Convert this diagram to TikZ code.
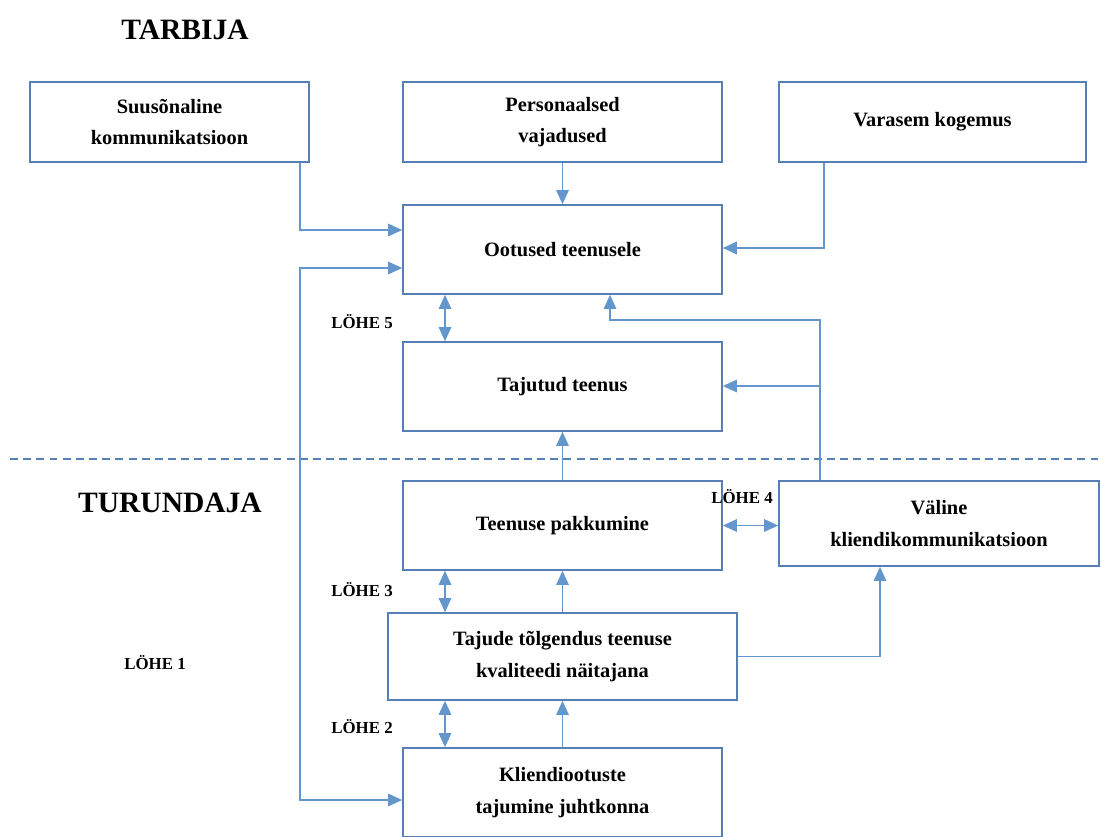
\documentclass[tikz,border=0pt]{standalone}
\usepackage{fontspec}
\setmainfont{Liberation Serif}
\usetikzlibrary{arrows.meta}
\definecolor{kast}{RGB}{84,128,182}
\definecolor{joon}{RGB}{98,150,205}

\begin{document}
\begin{tikzpicture}[x=0.02cm,y=-0.02cm,
  blok/.style={draw=kast, line width=0.9pt, align=center, inner sep=2pt,
    font=\bfseries\fontsize{11.6}{18}\selectfont},
  pealkiri/.style={font=\bfseries\fontsize{16.8}{20}\selectfont},
  lohe/.style={font=\bfseries\fontsize{9.6}{11}\selectfont},
  nool/.style={draw=joon, line width=1.1pt, -{Triangle[length=8pt,width=7pt]}},
  nool2/.style={draw=joon, line width=1.1pt, {Triangle[length=8pt,width=7pt]}-{Triangle[length=8pt,width=7pt]}}]
  \def\lai{6.38cm}
  \def\korg{1.78cm}
  \useasboundingbox (0,0) rectangle (1101,836);
  \fill[white] (0,0) rectangle (1101,836);
  % tarbija pool
  \node[pealkiri] (tarbija) at (185,30) {TARBIJA};
  \node[blok, minimum width=5.58cm, minimum height=1.6cm] (suus) at (169.5,122) {Suusõnaline\\kommunikatsioon};
  \node[blok, minimum width=\lai, minimum height=1.6cm] (pers) at (562.5,122) {Personaalsed\\vajadused};
  \node[blok, minimum width=6.14cm, minimum height=1.6cm] (vara) at (932.5,122) {Varasem kogemus};
  \node[blok, minimum width=\lai, minimum height=\korg] (ootus) at (562.5,249.5) {Ootused teenusele};
  \node[blok, minimum width=\lai, minimum height=\korg] (tajutud) at (562.5,386.5) {Tajutud teenus};
  % piir
  \draw[kast, line width=0.7pt, dash pattern=on 4.5pt off 3pt] (10,459) -- (1101,459);
  % turundaja pool
  \node[pealkiri] (turundaja) at (170,503) {TURUNDAJA};
  \node[blok, minimum width=\lai, minimum height=\korg] (pakk) at (562.5,525.5) {Teenuse pakkumine};
  \node[blok, minimum width=6.4cm, minimum height=1.7cm] (valine) at (939,523.5) {Väline\\kliendikommunikatsioon};
  \node[blok, minimum width=6.98cm, minimum height=1.74cm] (tolg) at (562.5,656.5) {Tajude tõlgendus teenuse\\kvaliteedi näitajana};
  \node[blok, minimum width=\lai, minimum height=\korg] (klient) at (562.5,792.5) {Kliendiootuste\\tajumine juhtkonna};
  % lõhed
  \node[lohe] (l5) at (362,322) {LÖHE 5};
  \node[lohe] (l4) at (742,497) {LÖHE 4};
  \node[lohe] (l3) at (362,590) {LÖHE 3};
  \node[lohe] (l1) at (155,663) {LÖHE 1};
  \node[lohe] (l2) at (362,727) {LÖHE 2};
  % nooled
  \draw[nool] (suus.south -| 300,0) |- (ootus.west |- 0,230);
  \draw[nool] (pers) -- (ootus);
  \draw[nool] (vara.south -| 824,0) |- (ootus.east |- 0,248);
  \draw[nool2] (ootus.west |- 0,268) -| (300,800) -- (klient.west |- 0,800);
  \draw[nool2] (ootus.south -| 445,0) -- (tajutud.north -| 445,0);
  \coordinate (haru) at (820,386);
  \draw[nool] (valine.north -| 820,0) |- (610,320) -- (ootus.south -| 610,0);
  \draw[nool] (haru) -- (tajutud.east |- haru);
  \draw[nool] (pakk) -- (tajutud);
  \draw[nool2] (pakk.east) -- (valine.west |- pakk.east);
  \draw[nool2] (pakk.south -| 445,0) -- (tolg.north -| 445,0);
  \draw[nool] (tolg.north -| pakk.south) -- (pakk.south);
  \draw[nool] (tolg.east) -| (valine.south -| 880,0);
  \draw[nool2] (tolg.south -| 445,0) -- (klient.north -| 445,0);
  \draw[nool] (klient) -- (tolg);
\end{tikzpicture}
\end{document}
